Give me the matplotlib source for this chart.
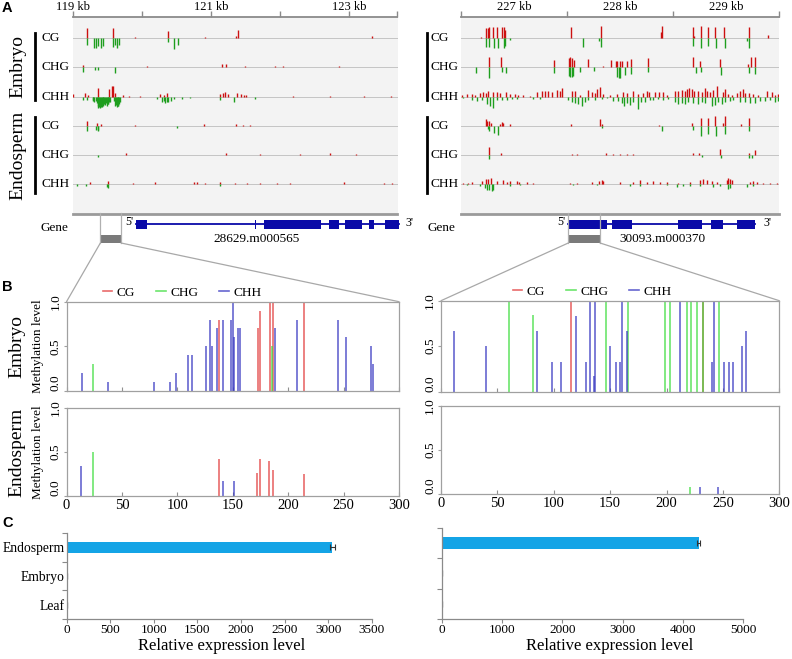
import matplotlib
matplotlib.use('Agg')
import matplotlib.pyplot as plt
from matplotlib.patches import Rectangle, ConnectionPatch
from matplotlib.lines import Line2D

plt.rcParams['font.family'] = ['Liberation Serif', 'DejaVu Serif']

# ---------------- DATA ----------------
# Panel A: methylation tracks (position in kb, signed level: + forward/red, - reverse/green)
emb_CG_L_pos = [119.203, 119.589, 119.903, 120.372, 120.918, 121.362, 121.386, 123.333,
                119.203, 119.309, 119.338, 119.362, 119.411, 119.440, 119.589, 119.614, 119.647, 119.667,
                120.372, 120.459, 120.517]
emb_CG_L_val = [1.0, 1.0, 0.1, 0.7, 0.1, 0.2, 0.8, 0.2,
                -0.65, -1.0, -1.0, -0.8, -1.0, -0.8, -0.9, -0.7, -1.0, -0.7, -0.4, -1.1, -0.7]
emb_CHG_L_pos = [119.145, 120.072, 121.159, 121.217, 121.498, 121.932, 122.043, 122.860,
                 119.155, 119.324, 119.372, 119.614]
emb_CHG_L_val = [0.2, 0.1, 0.3, 0.3, 0.1, 0.1, 0.1, 0.1, -0.5, -0.3, -0.3, -0.6]
emb_CHH_L_pos = [119.000, 119.179, 119.227, 119.372, 119.531, 119.565, 119.589, 119.614, 119.734, 119.821,
                 119.976, 120.266, 120.314, 120.362, 121.135, 121.174, 121.208, 121.242, 121.377, 121.435,
                 121.473, 121.512, 122.188, 122.729, 123.213, 123.599,
                 119.155, 119.213, 119.290, 119.300, 119.315, 119.330, 119.348, 119.360, 119.372, 119.384,
                 119.396, 119.408, 119.420, 119.432, 119.444, 119.456, 119.469, 119.481, 119.493, 119.505,
                 119.517, 119.529, 119.541, 119.600, 119.614, 119.626, 119.638, 119.650, 119.662, 119.674,
                 119.686, 120.217, 120.290, 120.314, 120.338, 120.362, 120.386, 120.420, 120.459, 120.580,
                 120.700, 121.135, 121.329, 121.643]
emb_CHH_L_val = [0.3, 0.4, 0.2, 0.9, 0.8, 1.1, 1.1, 0.4, 0.2, 0.1,
                 0.1, 0.3, 0.2, 0.4, 0.3, 0.4, 0.5, 0.3, 0.4, 0.3,
                 0.2, 0.2, 0.1, 0.1, 0.1, 0.1,
                 -0.3, -0.3, -0.3, -0.4, -0.5, -0.4, -0.6, -0.9, -1.1, -1.0,
                 -1.1, -1.0, -1.0, -0.8, -0.9, -0.7, -0.8, -0.6, -0.9, -0.7,
                 -0.7, -0.5, -0.5, -0.4, -0.9, -0.8, -1.0, -0.9, -0.9, -0.7,
                 -0.5, -0.2, -0.5, -0.4, -0.6, -0.5, -0.5, -0.4, -0.2, -0.2,
                 -0.1, -0.3, -0.5, -0.2]
endo_CG_L_pos = [119.203, 119.357, 119.411, 119.903, 120.894, 121.362, 121.464, 121.570,
                 119.203, 119.338, 119.362, 119.372, 120.507]
endo_CG_L_val = [0.5, 0.3, 0.2, 0.1, 0.2, 0.2, 0.1, 0.1, -0.5, -0.4, -0.5, -0.4, -0.2]
endo_CHG_L_pos = [119.145, 119.768, 121.217, 121.715, 122.295, 122.729, 123.106, 119.362]
endo_CHG_L_val = [0.05, 0.2, 0.2, 0.1, 0.1, 0.2, 0.1, -0.2]
endo_CHH_L_pos = [119.251, 119.517, 119.870, 120.184, 120.758, 120.797, 120.918, 121.135, 121.353, 121.522,
                  121.715, 121.957, 122.150, 122.923, 123.502, 123.623,
                  119.058, 119.193, 119.493, 119.517, 121.135]
endo_CHH_L_val = [0.2, 0.3, 0.1, 0.2, 0.2, 0.2, 0.1, 0.2, 0.1, 0.1,
                  0.1, 0.1, 0.1, 0.2, 0.1, 0.1,
                  -0.2, -0.2, -0.3, -0.4, -0.2]

emb_CG_R_pos = [226.686, 226.736, 226.752, 226.767, 226.805, 226.843, 226.887, 226.906, 226.918, 227.535,
                227.818, 228.387, 228.399, 228.686, 228.701, 228.764, 228.833, 228.896, 228.981, 229.217, 229.399,
                226.736, 226.761, 226.808, 226.849, 226.909, 226.918, 226.965, 227.651, 227.805, 227.818,
                228.692, 228.764, 228.833, 228.903, 228.991, 229.201, 229.217]
emb_CG_R_val = [0.1, 1.0, 1.0, 1.1, 1.1, 1.1, 1.1, 1.1, 0.8, 1.1,
                1.2, 0.6, 1.2, 1.1, 0.2, 1.2, 1.1, 1.1, 1.1, 1.1, 0.3,
                -0.9, -0.9, -1.0, -1.0, -1.0, -0.8, -0.2, -0.9, -0.3, -0.9,
                -0.8, -1.0, -0.8, -1.0, -1.0, -0.3, -1.0]
emb_CHG_R_pos = [226.761, 226.877, 227.381, 227.516, 227.531, 227.547, 227.566, 227.701, 227.843, 227.912,
                 227.962, 227.975, 228.000, 228.022, 228.063, 228.107, 228.261, 228.686, 228.755, 228.943,
                 229.211, 229.233, 229.274,
                 226.642, 226.767, 226.884, 226.925, 227.381, 227.516, 227.528, 227.544, 227.560, 227.623,
                 227.758, 227.969, 227.987, 228.000, 228.047, 228.107, 228.261, 228.714, 228.764, 228.953,
                 229.220, 229.274]
emb_CHG_R_val = [1.0, 1.0, 0.7, 0.9, 1.0, 0.9, 0.7, 0.8, 0.1, 0.7,
                 0.6, 0.6, 0.6, 0.6, 0.6, 0.8, 0.9, 1.0, 0.6, 0.8,
                 0.3, 1.0, 1.0,
                 -0.6, -1.1, -0.5, -0.6, -0.6, -0.9, -1.0, -1.0, -0.9, -0.5,
                 -0.4, -1.0, -1.1, -1.1, -0.8, -0.7, -0.5, -0.6, -0.5, -0.8,
                 -0.6, -0.7]
emb_CHH_R_pos = [226.506, 226.553, 226.601, 226.632, 226.679, 226.711, 226.736, 226.758, 226.805, 226.836,
                 226.868, 226.925, 226.962, 227.009, 227.041, 227.088, 227.151, 227.220, 227.261, 227.292,
                 227.324, 227.355, 227.403, 227.434, 227.456, 227.544, 227.575, 227.623, 227.701, 227.733,
                 227.764, 227.786, 227.811, 227.843, 227.906, 227.969, 228.031, 228.063, 228.126, 228.173,
                 228.220, 228.252, 228.277, 228.330, 228.371, 228.409, 228.440, 228.519, 228.550, 228.582,
                 228.613, 228.635, 228.654, 228.676, 228.698, 228.739, 228.770, 228.802, 228.824, 228.849,
                 228.874, 228.912, 228.969, 228.991, 229.022, 229.053, 229.101, 229.132, 229.157, 229.179,
                 229.220, 229.258, 229.305, 229.384, 229.431, 229.462, 229.494,
                 226.522, 226.601, 226.648, 226.695, 226.742, 226.774, 226.799, 226.836, 226.884, 226.931,
                 226.978, 227.025, 227.182, 227.245, 227.513, 227.544, 227.575, 227.607, 227.638, 227.670,
                 227.701, 227.764, 227.827, 227.874, 227.937, 227.984, 228.016, 228.038, 228.063, 228.094,
                 228.126, 228.173, 228.195, 228.236, 228.283, 228.314, 228.362, 228.409, 228.456, 228.519,
                 228.550, 228.582, 228.613, 228.645, 228.692, 228.739, 228.770, 228.802, 228.865, 228.896,
                 228.928, 228.959, 228.991, 229.038, 229.069, 229.132, 229.179, 229.226, 229.274, 229.321,
                 229.368, 229.415, 229.462, 229.494]
emb_CHH_R_val = [0.2, 0.3, 0.3, 0.2, 0.4, 0.5, 0.4, 0.6, 0.5, 0.5,
                 0.4, 0.5, 0.3, 0.3, 0.2, 0.2, 0.1, 0.5, 0.6, 0.6,
                 0.6, 0.5, 0.7, 0.6, 0.9, 0.6, 0.6, 0.2, 0.7, 0.5,
                 0.4, 0.8, 1.0, 0.3, 0.2, 0.3, 0.5, 0.4, 0.6, 0.3,
                 0.4, 0.6, 0.5, 0.5, 0.5, 0.5, 0.2, 0.6, 0.6, 0.7,
                 0.6, 0.8, 0.9, 0.8, 0.6, 0.6, 0.5, 0.9, 0.6, 0.5,
                 0.7, 1.1, 0.5, 0.8, 0.3, 0.2, 0.4, 0.6, 0.8, 0.4,
                 0.4, 0.3, 0.2, 0.6, 0.5, 0.2, 0.3,
                 -0.1, -0.3, -0.4, -0.3, -0.7, -0.9, -1.1, -0.3, -0.3, -0.3,
                 -0.2, -0.2, -0.2, -0.2, -0.3, -0.5, -0.6, -0.7, -0.9, -0.5,
                 -0.3, -0.3, -0.2, -0.1, -0.4, -0.4, -0.6, -0.9, -0.6, -0.8,
                 -0.5, -1.2, -0.5, -0.5, -0.3, -0.3, -0.2, -0.3, -0.2, -0.5,
                 -0.7, -0.6, -0.7, -0.5, -0.6, -0.7, -0.5, -0.6, -0.9, -0.8,
                 -0.5, -0.7, -0.5, -0.4, -0.3, -0.5, -0.5, -0.6, -0.6, -0.4,
                 -0.4, -0.3, -0.5, -0.4]
endo_CG_R_pos = [226.736, 226.748, 226.764, 226.780, 226.868, 226.887, 226.899, 226.962, 227.535, 227.811,
                 227.827, 228.368, 228.682, 228.764, 228.833, 228.896, 228.969, 228.987, 229.138, 229.217,
                 226.752, 226.767, 226.808, 226.846, 227.827, 228.399, 228.692, 228.764, 228.833, 228.903,
                 228.991, 229.217]
endo_CG_R_val = [0.7, 0.5, 0.5, 0.3, 0.2, 0.4, 0.3, 0.2, 0.2, 0.7,
                 0.2, 0.1, 0.3, 0.8, 0.8, 1.0, 0.3, 1.0, 0.2, 0.8,
                 -0.3, -0.5, -0.7, -0.9, -0.2, -0.5, -0.4, -1.0, -0.8, -1.0,
                 -0.8, -0.5]
endo_CHG_R_pos = [226.764, 226.877, 227.544, 227.591, 227.868, 227.937, 228.000, 228.063, 228.126, 228.686,
                  228.748, 228.943, 229.220, 229.274,
                  226.764, 228.770, 228.953, 229.220, 229.242]
endo_CHG_R_val = [0.8, 0.2, 0.1, 0.1, 0.2, 0.1, 0.1, 0.1, 0.1, 0.2,
                  0.2, 0.6, 0.2, 0.5,
                  -0.4, -0.2, -0.3, -0.3, -0.3]
endo_CHH_R_pos = [226.522, 226.569, 226.601, 226.695, 226.736, 226.758, 226.783, 226.836, 226.893, 226.931,
                  226.962, 227.025, 227.050, 227.119, 227.182, 227.528, 227.591, 227.733, 227.805, 227.827,
                  227.843, 228.000, 228.126, 228.189, 228.252, 228.314, 228.377, 228.440, 228.550, 228.660,
                  228.755, 228.786, 228.818, 228.865, 228.912, 229.006, 229.022, 229.038, 229.053, 229.226,
                  229.258, 229.289, 229.352, 229.415, 229.478,
                  226.553, 226.679, 226.726, 226.748, 226.767, 226.789, 226.805, 226.962, 227.057, 227.560,
                  227.780, 228.094, 228.189, 228.440, 228.535, 228.597, 228.660, 228.755, 228.881, 228.943,
                  229.022, 229.038, 229.195, 229.258]
endo_CHH_R_val = [0.1, 0.1, 0.2, 0.3, 0.5, 0.5, 0.6, 0.3, 0.4, 0.2,
                  0.3, 0.3, 0.2, 0.2, 0.1, 0.1, 0.1, 0.2, 0.3, 0.4,
                  0.3, 0.2, 0.2, 0.4, 0.2, 0.3, 0.2, 0.2, 0.1, 0.2,
                  0.4, 0.5, 0.4, 0.3, 0.2, 0.4, 0.6, 0.5, 0.4, 0.2,
                  0.3, 0.2, 0.1, 0.1, 0.1,
                  -0.1, -0.2, -0.4, -0.6, -0.6, -0.7, -0.6, -0.2, -0.1, -0.1,
                  -0.1, -0.2, -0.2, -0.1, -0.3, -0.2, -0.2, -0.2, -0.3, -0.2,
                  -0.5, -0.4, -0.3, -0.2]

track_labels = ['CG', 'CHG', 'CHH', 'CG', 'CHG', 'CHH']

# Gene models (kb)
gene_L_name = '28629.m000565'
gene_L_span = (119.913, 123.72)
gene_L_exons = [(119.913, 120.072), (121.640, 121.655), (121.762, 122.599), (122.704, 122.859),
                (122.946, 123.188), (123.284, 123.357), (123.526, 123.72)]
gene_R_name = '30093.m000370'
gene_R_span = (227.512, 229.274)
gene_R_exons = [(227.512, 227.875), (227.922, 228.110), (228.544, 228.771), (228.858, 228.969),
                (229.101, 229.274)]
zoom_L_start, zoom_R_start, zoom_len_kb = 119.40, 227.512, 0.3
ruler_L_ticks = [119, 120, 121, 122, 123, 123.7]
ruler_L_labels = [119, 121, 123]
ruler_R_ticks = [226.5, 227.5, 228.5, 229.5]
ruler_R_labels = [227, 228, 229]

# Panel B: methylation level by position (bp)
bL_emb_CG_pos = [138, 172.5, 175, 184, 186.5, 214]
bL_emb_CG_val = [0.8, 0.7, 0.9, 1.0, 1.0, 1.0]
bL_emb_CHG_pos = [24, 185]
bL_emb_CHG_val = [0.3, 0.5]
bL_emb_CHH_pos = [14, 37, 79, 93, 99, 110, 113, 126, 129.5, 131.5, 136, 141, 148, 150, 151,
                  155, 156.5, 188.5, 208, 245, 252.5, 274.5, 276.5]
bL_emb_CHH_val = [0.2, 0.1, 0.1, 0.1, 0.2, 0.4, 0.4, 0.5, 0.8, 0.5, 0.7, 0.8, 0.8, 1.0, 0.6,
                  0.7, 0.7, 0.7, 0.8, 0.8, 0.6, 0.5, 0.3]
bL_end_CG_pos = [138, 172, 175, 183, 186, 214]
bL_end_CG_val = [0.42, 0.26, 0.42, 0.40, 0.30, 0.25]
bL_end_CHG_pos = [23.5]
bL_end_CHG_val = [0.5]
bL_end_CHH_pos = [13, 141, 151]
bL_end_CHH_val = [0.34, 0.17, 0.17]

bR_emb_CG_pos = [115.5, 232.5]
bR_emb_CG_val = [1.0, 1.0]
bR_emb_CHG_pos = [60, 81.5, 146.5, 165.5, 199, 203.5, 218.5, 221.5, 227, 232.5, 246.5]
bR_emb_CHG_val = [1.0, 0.84, 1.0, 1.0, 1.0, 1.0, 1.0, 1.0, 1.0, 1.0, 1.0]
bR_emb_CHH_pos = [11.5, 39.5, 85, 98, 106, 119.5, 129, 132.5, 135.5, 137, 149.5, 155.5, 158.5,
                  160.5, 164.5, 212, 240.5, 242.5, 251, 255.5, 258.5, 266.5, 270.5]
bR_emb_CHH_val = [0.67, 0.5, 0.67, 0.33, 0.33, 0.83, 0.33, 1.0, 0.17, 1.0, 0.5, 0.33, 0.33,
                  1.0, 0.67, 1.0, 0.33, 1.0, 0.33, 0.33, 0.33, 0.5, 0.67]
bR_end_CG_pos = []
bR_end_CG_val = []
bR_end_CHG_pos = [221]
bR_end_CHG_val = [0.08]
bR_end_CHH_pos = [230, 245.5]
bR_end_CHH_val = [0.08, 0.08]

# Panel C: relative expression
tissues = ['Endosperm', 'Embryo', 'Leaf']
exprL = [3050, 3, 2]
exprL_err = [25, 1, 1]
exprR = [4260, 4, 3]
exprR_err = [30, 1, 1]

# ---------------- FIGURE ----------------
W, H = 792, 659
fig = plt.figure(figsize=(W / 100, H / 100), dpi=100)


def add_ax(x0, y0, x1, y1):
    return fig.add_axes([x0 / W, 1 - y1 / H, (x1 - x0) / W, (y1 - y0) / H])


def ftext(x, y, s, **kw):
    return fig.text(x / W, 1 - y / H, s, **kw)


RED, GREEN = '#cc1010', '#1e9e1e'
row_px0, row_dy = 38.3, 29.2
trk_top, trk_bot = 17, 214
bar_scale = 10.0 / row_dy


def draw_tracks(x0, x1, xlim, tracks, ruler_ticks, ruler_labels, label_x, bar_x, group_labels):
    ax = add_ax(x0, trk_top, x1, trk_bot)
    ax.set_facecolor('#f3f3f3')
    ax.set_xlim(*xlim)
    ax.set_ylim((trk_bot - row_px0) / row_dy, (trk_top - row_px0) / row_dy)
    for s in ['top', 'left', 'right']:
        ax.spines[s].set_visible(False)
    ax.spines['bottom'].set_color('#9a9a9a')
    ax.spines['bottom'].set_linewidth(2.0)
    ax.set_xticks([])
    ax.set_yticks([])
    for i, (pos, val) in enumerate(tracks):
        ax.axhline(i, color='#c4c4c4', lw=0.7, zorder=1)
        cols = [RED if v > 0 else GREEN for v in val]
        ax.vlines(pos, [i] * len(pos), [i - v * bar_scale for v in val], colors=cols, lw=1.0, zorder=2)
        ftext(label_x, row_px0 + i * row_dy, track_labels[i], fontsize=9.5, va='center', ha='left')
    # ruler
    rax = add_ax(x0, 0, x1, 16.5)
    rax.set_xlim(*xlim)
    rax.set_ylim(0, 1)
    rax.patch.set_visible(False)
    for s in ['top', 'left', 'right']:
        rax.spines[s].set_visible(False)
    rax.spines['bottom'].set_color('#8a8a8a')
    rax.spines['bottom'].set_linewidth(1.3)
    rax.set_yticks([])
    rax.set_xticks(ruler_ticks)
    rax.tick_params(axis='x', direction='in', length=4, width=1.0, color='#8a8a8a', labelbottom=False)
    for kb in ruler_labels:
        rax.text(kb, 0.6, f'{kb} kb', fontsize=9, ha='center', va='center')
    for (ya, yb, name) in group_labels:
        fig.add_artist(Line2D([bar_x / W, bar_x / W], [1 - ya / H, 1 - yb / H], color='black', lw=2.0))
        if name:
            ftext(18, (ya + yb) / 2, name, fontsize=14, rotation=90, ha='center', va='center')
    return ax


groupsL = [(32.7, 100, 'Embryo'), (117, 193, 'Endosperm')]
groupsR = [(32.7, 100, None), (117, 193, None)]

tracksL = [(emb_CG_L_pos, emb_CG_L_val), (emb_CHG_L_pos, emb_CHG_L_val), (emb_CHH_L_pos, emb_CHH_L_val),
           (endo_CG_L_pos, endo_CG_L_val), (endo_CHG_L_pos, endo_CHG_L_val), (endo_CHH_L_pos, endo_CHH_L_val)]
tracksR = [(emb_CG_R_pos, emb_CG_R_val), (emb_CHG_R_pos, emb_CHG_R_val), (emb_CHH_R_pos, emb_CHH_R_val),
           (endo_CG_R_pos, endo_CG_R_val), (endo_CHG_R_pos, endo_CHG_R_val), (endo_CHH_R_pos, endo_CHH_R_val)]

axAL = draw_tracks(72.7, 397.5, (119.0, 123.7), tracksL, ruler_L_ticks, ruler_L_labels, 42, 35, groupsL)
axAR = draw_tracks(461, 779, (226.5, 229.5), tracksR, ruler_R_ticks, ruler_R_labels, 430.5, 426.7, groupsR)

BLUE_GENE = '#0a0aa8'


def draw_gene(x0, x1, xlim, span, exons, name, name_x, zstart):
    g = add_ax(x0, 215, x1, 247)
    g.set_xlim(*xlim)
    g.set_ylim(0, 1)
    g.axis('off')
    yc = (247 - 224) / 32
    eh = 9 / 32
    g.plot([span[0], span[1]], [yc, yc], color=BLUE_GENE, lw=1.3, clip_on=False)
    for a, b in exons:
        g.add_patch(Rectangle((a, yc - eh / 2), b - a, eh, color=BLUE_GENE, lw=0, clip_on=False))
    g.text(span[0] - 0.03, yc + 0.07, "5'", fontsize=8.5, ha='right', va='center')
    g.text(name_x, (247 - 238.5) / 32, name, fontsize=9.5, ha='center', va='center')
    zb = (247 - 243) / 32
    zt = (247 - 235) / 32
    g.add_patch(Rectangle((zstart, zb), zoom_len_kb, zt - zb, color='#7a7a7a', lw=0))
    g.plot([zstart, zstart], [zb, 1.05], color='#b0b0b0', lw=0.9, clip_on=False)
    g.plot([zstart + zoom_len_kb] * 2, [zb, 1.05], color='#b0b0b0', lw=0.9, clip_on=False)
    return g, zb


gL, zbL = draw_gene(72.7, 397.5, (119.0, 123.7), gene_L_span, gene_L_exons, gene_L_name, 121.66, zoom_L_start)
gR, zbR = draw_gene(461, 779, (226.5, 229.5), gene_R_span, gene_R_exons, gene_R_name, 228.4, zoom_R_start)
ftext(405, 222.5, "3'", fontsize=8.5, ha='left', va='center')
ftext(763, 222.5, "3'", fontsize=8.5, ha='left', va='center')
ftext(40.5, 228, 'Gene', fontsize=9.5, ha='left', va='center')
ftext(427, 228, 'Gene', fontsize=9.5, ha='left', va='center')

# ---------------- Panel B ----------------
C_CG, C_CHG, C_CHH = '#e23a3a', '#3cdc3c', '#3434c0'


def draw_B(x0, y0, x1, y1, data, show_x):
    ax = add_ax(x0, y0, x1, y1)
    ax.set_xlim(0, 300)
    ax.set_ylim(0, 1.0)
    (cgp, cgv), (chgp, chgv), (chhp, chhv) = data
    ax.vlines(cgp, 0, cgv, color=C_CG, lw=1.2, alpha=0.75)
    ax.vlines(chgp, 0, chgv, color=C_CHG, lw=1.2, alpha=0.75)
    ax.vlines(chhp, 0, chhv, color=C_CHH, lw=1.2, alpha=0.75)
    for s in ax.spines.values():
        s.set_color('#a0a0a0')
        s.set_linewidth(0.9)
    ax.set_yticks([0, 0.5, 1.0])
    ax.set_yticklabels(['0.0', '0.5', '1.0'], rotation=90, fontsize=9.5)
    for lab, va in zip(ax.get_yticklabels(), ['bottom', 'center', 'center']):
        lab.set_va(va)
    ax.tick_params(axis='y', direction='out', length=2, color='#a0a0a0', pad=1.5)
    ax.set_xticks([0, 50, 100, 150, 200, 250, 300])
    ax.tick_params(axis='x', direction='in', length=3, color='#909090', labelsize=10.5, pad=2,
                   labelbottom=show_x)
    return ax


bLt = draw_B(66.5, 301.7, 399, 391, [(bL_emb_CG_pos, bL_emb_CG_val), (bL_emb_CHG_pos, bL_emb_CHG_val),
                                       (bL_emb_CHH_pos, bL_emb_CHH_val)], False)
bLb = draw_B(66.5, 407.7, 399, 496, [(bL_end_CG_pos, bL_end_CG_val), (bL_end_CHG_pos, bL_end_CHG_val),
                                       (bL_end_CHH_pos, bL_end_CHH_val)], True)
bRt = draw_B(441, 300.7, 779.3, 391.7, [(bR_emb_CG_pos, bR_emb_CG_val), (bR_emb_CHG_pos, bR_emb_CHG_val),
                                          (bR_emb_CHH_pos, bR_emb_CHH_val)], False)
bRb = draw_B(441, 406, 779.3, 494.3, [(bR_end_CG_pos, bR_end_CG_val), (bR_end_CHG_pos, bR_end_CHG_val),
                                        (bR_end_CHH_pos, bR_end_CHH_val)], True)

ftext(38.5, 346, 'Methylation level', fontsize=9.5, rotation=90, ha='center', va='center')
ftext(38.5, 452, 'Methylation level', fontsize=9.5, rotation=90, ha='center', va='center')
ftext(17, 346, 'Embryo', fontsize=14, rotation=90, ha='center', va='center')
ftext(17, 452, 'Endosperm', fontsize=14, rotation=90, ha='center', va='center')

handles = [Line2D([], [], color=C_CG, lw=1.2, alpha=0.75), Line2D([], [], color=C_CHG, lw=1.2, alpha=0.75),
           Line2D([], [], color=C_CHH, lw=1.2, alpha=0.75)]
for ax, fx in [(bLt, 0.11), (bRt, 0.213)]:
    ax.legend(handles, ['CG', 'CHG', 'CHH'], ncol=3, frameon=False, fontsize=9.5, handlelength=0.7,
              handletextpad=0.35, columnspacing=1.6, loc='center left',
              bbox_to_anchor=(fx, 1.1), borderaxespad=0, borderpad=0)

# zoom connectors
for g, zs, bax in [(gL, zoom_L_start, bLt), (gR, zoom_R_start, bRt)]:
    for xa, xb in [(zs, 0), (zs + zoom_len_kb, 1)]:
        con = ConnectionPatch(xyA=(xa, zbL), coordsA=g.transData, xyB=(xb, 1), coordsB=bax.transAxes,
                              color='#a8a8a8', lw=0.9)
        fig.add_artist(con)

# ---------------- Panel C ----------------
BAR = '#14a4e6'


def draw_C(x0, y0, x1, y1, vals, errs, xmax, step, labels, xlabel_x):
    ax = add_ax(x0, y0, x1, y1)
    ypos = [2, 1, 0]
    ax.barh(ypos, vals, height=0.38, xerr=errs, color=BAR,
            error_kw=dict(ecolor='#333333', capsize=2, elinewidth=0.8, capthick=0.8))
    ax.set_xlim(0, xmax)
    ax.set_ylim(-0.5, 2.5)
    for s in ['top', 'right']:
        ax.spines[s].set_visible(False)
    for s in ['left', 'bottom']:
        ax.spines[s].set_color('#8a8a8a')
        ax.spines[s].set_linewidth(0.9)
    ax.set_yticks([-0.5, 0.5, 1.5, 2.5])
    ax.set_yticklabels([])
    ax.tick_params(axis='y', which='major', direction='out', length=3.5, color='#8a8a8a')
    if labels:
        ax.set_yticks(ypos, minor=True)
        ax.set_yticklabels(labels, minor=True, fontsize=9.8)
        ax.tick_params(axis='y', which='minor', length=0, pad=1.5)
    ax.set_xticks(list(range(0, xmax + 1, step)))
    ax.tick_params(axis='x', direction='out', length=3, color='#8a8a8a', labelsize=9.5, pad=0.5)
    ftext(xlabel_x, 646, 'Relative expression level', fontsize=12, ha='center', va='center')
    return ax


draw_C(66.7, 533, 371.7, 619, exprL, exprL_err, 3500, 500, tissues, 222)
draw_C(441.7, 528, 743.3, 619, exprR, exprR_err, 5000, 1000, None, 610)

# panel letters
for lab, y in [('A', 8), ('B', 287), ('C', 523)]:
    ftext(2, y, lab, fontsize=10.5, fontweight='bold', family=['Liberation Sans', 'DejaVu Sans'],
          ha='left', va='center')

fig.savefig('out.png', dpi=100)
